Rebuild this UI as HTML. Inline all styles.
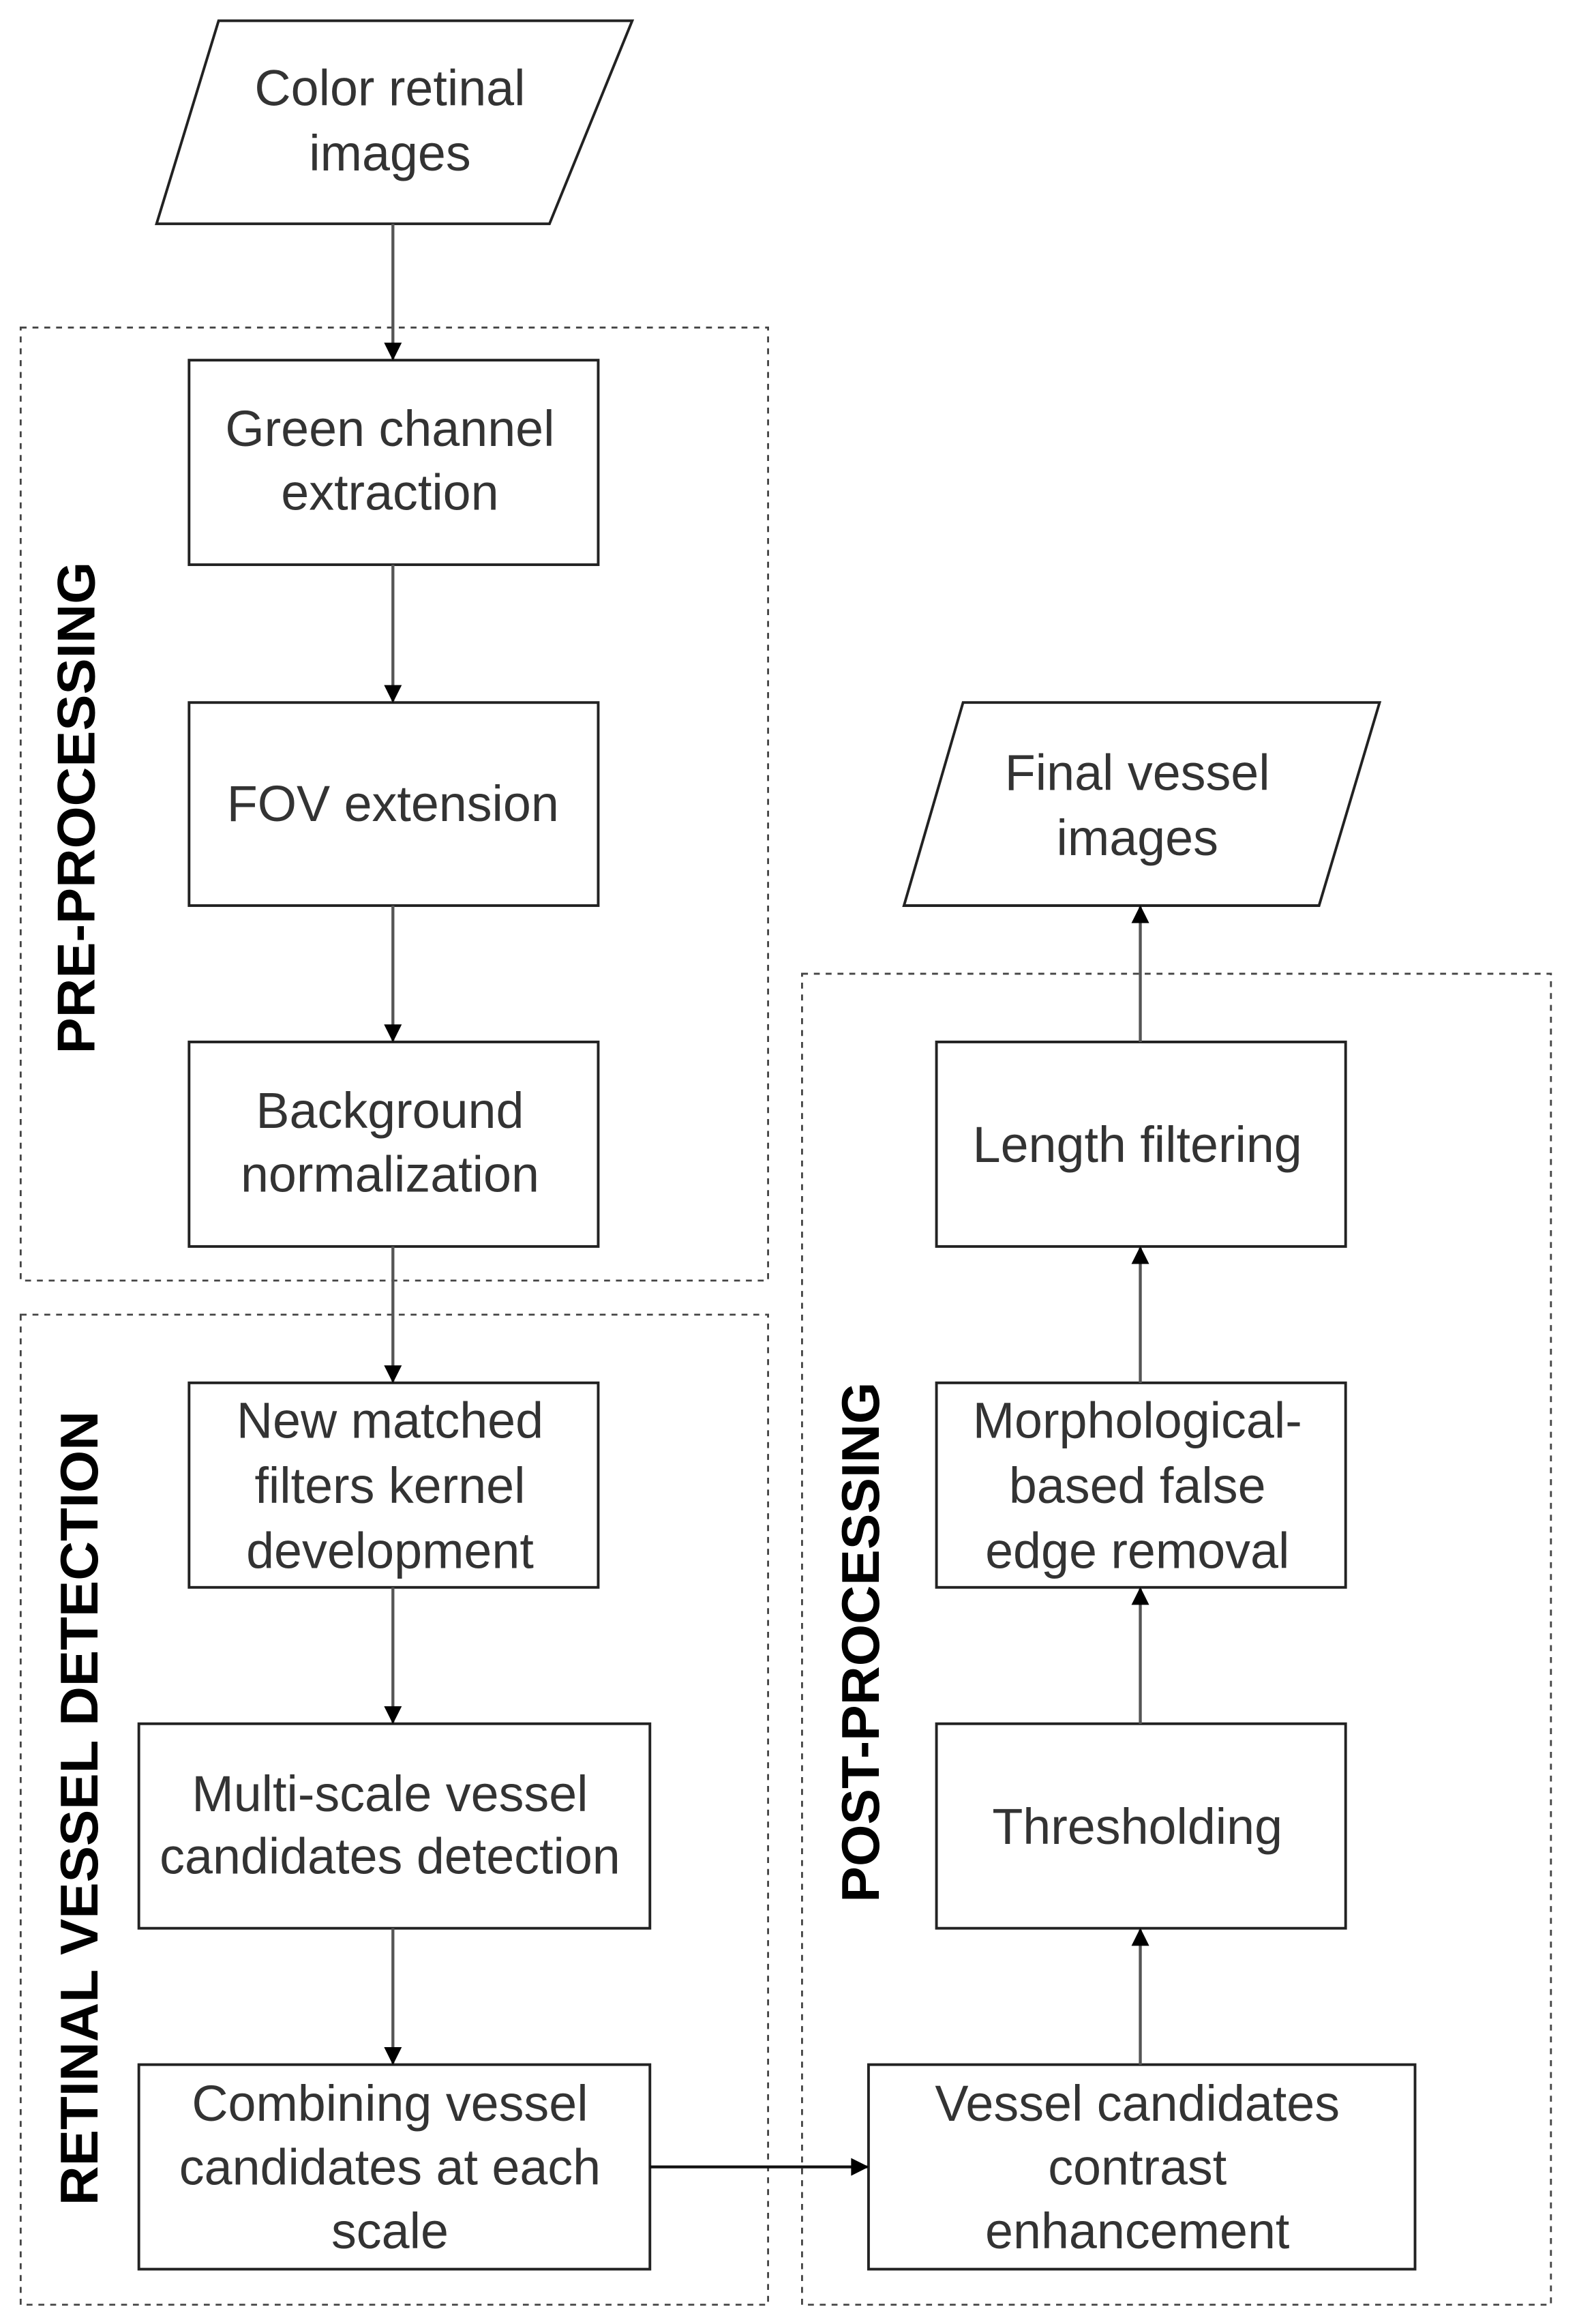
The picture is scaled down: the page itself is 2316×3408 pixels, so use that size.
<!DOCTYPE html>
<html><head><meta charset="utf-8"><style>html,body{margin:0;padding:0;background:#fff}svg{display:block}</style></head>
<body>
<svg width="2316" height="3408" viewBox="0 0 1069 1568" preserveAspectRatio="none" xmlns="http://www.w3.org/2000/svg">
<defs>
<marker id="ah" viewBox="0 0 10 10" refX="9" refY="5" markerWidth="13" markerHeight="12" markerUnits="userSpaceOnUse" orient="auto">
<path d="M0,0 L10,5 L0,10 z" fill="#000"/></marker>
</defs>
<rect width="1069" height="1568" fill="#fff"/>
<g fill="none" stroke="#444" stroke-width="1.3" stroke-dasharray="4 4">
<rect x="14" y="221" width="506" height="643"/>
<rect x="14" y="887" width="506" height="668"/>
<rect x="543" y="657" width="507" height="898"/>
</g>
<g fill="#fff" stroke="#222" stroke-width="1.8">
<polygon points="148,14 428,14 372,151 106,151"/>
<polygon points="652,474 934,474 893,611 612,611"/>
<rect x="128" y="243" width="277" height="138"/>
<rect x="128" y="474" width="277" height="137"/>
<rect x="128" y="703" width="277" height="138"/>
<rect x="128" y="933" width="277" height="138"/>
<rect x="94" y="1163" width="346" height="138"/>
<rect x="94" y="1393" width="346" height="138"/>
<rect x="588" y="1393" width="370" height="138"/>
<rect x="634" y="1163" width="277" height="138"/>
<rect x="634" y="933" width="277" height="138"/>
<rect x="634" y="703" width="277" height="138"/>
</g>
<g stroke="#555" stroke-width="2" marker-end="url(#ah)">
<line x1="266" y1="151" x2="266" y2="242"/>
<line x1="266" y1="381" x2="266" y2="473"/>
<line x1="266" y1="611" x2="266" y2="702"/>
<line x1="266" y1="841" x2="266" y2="932"/>
<line x1="266" y1="1071" x2="266" y2="1162"/>
<line x1="266" y1="1301" x2="266" y2="1392"/>
<line x1="440" y1="1462" x2="587" y2="1462" stroke="#111"/>
<line x1="772" y1="1393" x2="772" y2="1302"/>
<line x1="772" y1="1163" x2="772" y2="1072"/>
<line x1="772" y1="933" x2="772" y2="842"/>
<line x1="772" y1="703" x2="772" y2="612"/>
</g>
<g font-family="Liberation Sans, Arial, sans-serif" font-size="34" fill="#333" text-anchor="middle">
<text x="264" y="71">Color retinal</text>
<text x="264" y="115">images</text>
<text x="264" y="301">Green channel</text>
<text x="264" y="344">extraction</text>
<text x="266" y="554">FOV extension</text>
<text x="264" y="761">Background</text>
<text x="264" y="804">normalization</text>
<text x="264" y="970">New matched</text>
<text x="264" y="1014">filters kernel</text>
<text x="264" y="1058">development</text>
<text x="264" y="1222">Multi-scale vessel</text>
<text x="264" y="1264">candidates detection</text>
<text x="264" y="1431">Combining vessel</text>
<text x="264" y="1474">candidates at each</text>
<text x="264" y="1517">scale</text>
<text x="770" y="1431">Vessel candidates</text>
<text x="770" y="1474">contrast</text>
<text x="770" y="1517">enhancement</text>
<text x="770" y="1244">Thresholding</text>
<text x="770" y="970">Morphological-</text>
<text x="770" y="1014">based false</text>
<text x="770" y="1058">edge removal</text>
<text x="770" y="784">Length filtering</text>
<text x="770" y="533">Final vessel</text>
<text x="770" y="577">images</text>
</g>
<g font-family="Liberation Sans, Arial, sans-serif" font-size="36" font-weight="bold" fill="#000" text-anchor="middle">
<text transform="translate(64,545) rotate(-90)" textLength="332" lengthAdjust="spacingAndGlyphs">PRE-PROCESSING</text>
<text transform="translate(66,1220) rotate(-90)" textLength="536" lengthAdjust="spacingAndGlyphs">RETINAL VESSEL DETECTION</text>
<text transform="translate(595,1108) rotate(-90)" textLength="351" lengthAdjust="spacingAndGlyphs">POST-PROCESSING</text>
</g>
</svg>
</body></html>
